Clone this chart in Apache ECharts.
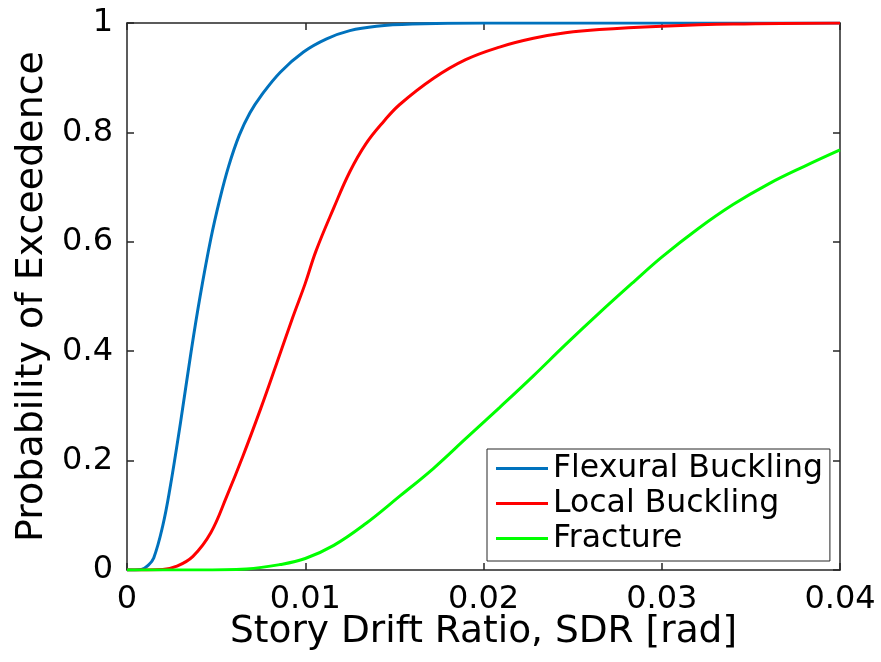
<!DOCTYPE html>
<html>
<head>
<meta charset="utf-8">
<script src="https://cdn.jsdelivr.net/npm/echarts@6/dist/echarts.min.js"></script>
<style>
html,body{margin:0;padding:0;background:#fff;}
#chart{width:881px;height:662px;}
</style>
</head>
<body>
<div id="chart"></div>
<script>
// ---- data ----
const seriesNames = ['Flexural Buckling', 'Local Buckling', 'Fracture'];

const flexX = [0, 0.0008, 0.0012, 0.0015, 0.0020, 0.0024, 0.0030, 0.0036, 0.0041, 0.0047, 0.0052, 0.0057, 0.0063, 0.0069, 0.0075, 0.0086, 0.0099, 0.0112, 0.0125, 0.0140, 0.0160, 0.0200, 0.0300, 0.0400];
const flexY = [0, 0.001, 0.009, 0.022, 0.080, 0.147, 0.269, 0.400, 0.500, 0.605, 0.677, 0.738, 0.795, 0.836, 0.866, 0.910, 0.947, 0.971, 0.986, 0.994, 0.998, 1.0, 1.0, 1.0];

const localX = [0, 0.0020, 0.0028, 0.0037, 0.0047, 0.0056, 0.0065, 0.0075, 0.0084, 0.0093, 0.0100, 0.0106, 0.0116, 0.0125, 0.0134, 0.0144, 0.0153, 0.0172, 0.0190, 0.0209, 0.0228, 0.0246, 0.0265, 0.0300, 0.0340, 0.0400];
const localY = [0, 0.001, 0.007, 0.025, 0.068, 0.135, 0.208, 0.295, 0.378, 0.462, 0.524, 0.583, 0.662, 0.728, 0.779, 0.820, 0.851, 0.899, 0.933, 0.956, 0.972, 0.982, 0.988, 0.994, 0.998, 1.0];

const fracX = [0, 0.0040, 0.0067, 0.0086, 0.0100, 0.0116, 0.0134, 0.0153, 0.0172, 0.0190, 0.0209, 0.0228, 0.0246, 0.0265, 0.0284, 0.0300, 0.0320, 0.0340, 0.0360, 0.0380, 0.0400];
const fracY = [0, 0.000, 0.002, 0.010, 0.021, 0.045, 0.085, 0.135, 0.186, 0.240, 0.297, 0.355, 0.412, 0.470, 0.526, 0.572, 0.623, 0.668, 0.706, 0.738, 0.768];

const xTicks = [0, 0.01, 0.02, 0.03, 0.04];
const yTicks = [0, 0.2, 0.4, 0.6, 0.8, 1];

const xTitle = 'Story Drift Ratio, SDR [rad]';
const yTitle = 'Probability of Exceedence';
const colors = ['#0072BD', '#FF0000', '#00FF00'];

// ---- build ----
function pairs(xs, ys) { return xs.map((x, i) => [x, ys[i]]); }
const allData = [pairs(flexX, flexY), pairs(localX, localY), pairs(fracX, fracY)];

const FONT = 'DejaVu Sans';
const axisColor = '#262626';

const chart = echarts.init(document.getElementById('chart'), null, {renderer: 'canvas'});

const baseAxisLine = {show: true, onZero: false, lineStyle: {color: axisColor, width: 1.5}};
const baseTick = {show: true, inside: true, length: 7, lineStyle: {color: axisColor, width: 1.5}};

chart.setOption({
  animation: false,
  backgroundColor: '#fff',
  color: colors,
  grid: {left: 127, right: 41, top: 23, bottom: 92, containLabel: false},
  legend: {
    orient: 'vertical',
    left: 487, top: 449,
    data: seriesNames,
    icon: 'rect',
    itemWidth: 52, itemHeight: 3,
    itemGap: 0,
    itemTextGap: 5,
    padding: [2, 7, 5, 9],
    borderColor: axisColor, borderWidth: 1,
    backgroundColor: '#fff',
    borderRadius: 0,
    textStyle: {fontFamily: FONT, fontSize: 31.5, color: '#000', lineHeight: 35}
  },
  xAxis: [{
    type: 'value', min: xTicks[0], max: xTicks[xTicks.length - 1], interval: xTicks[1] - xTicks[0],
    position: 'bottom',
    axisLine: baseAxisLine, axisTick: baseTick, splitLine: {show: false},
    axisLabel: {fontFamily: FONT, fontSize: 32, color: '#000', margin: 14},
    name: xTitle, nameLocation: 'middle', nameGap: 43, nameMoveOverlap: false,
    nameTextStyle: {fontFamily: FONT, fontSize: 37.5, color: '#000'}
  }, {
    type: 'value', min: xTicks[0], max: xTicks[xTicks.length - 1], interval: xTicks[1] - xTicks[0],
    position: 'top',
    axisLine: baseAxisLine, axisTick: baseTick, splitLine: {show: false},
    axisLabel: {show: false}
  }],
  yAxis: [{
    type: 'value', min: yTicks[0], max: yTicks[yTicks.length - 1], interval: yTicks[1] - yTicks[0],
    position: 'left',
    axisLine: baseAxisLine, axisTick: baseTick, splitLine: {show: false},
    axisLabel: {fontFamily: FONT, fontSize: 32, color: '#000', margin: 14},
    name: yTitle, nameLocation: 'middle', nameGap: 72, nameRotate: 90,
    nameTextStyle: {fontFamily: FONT, fontSize: 38, color: '#000'}
  }, {
    type: 'value', min: yTicks[0], max: yTicks[yTicks.length - 1], interval: yTicks[1] - yTicks[0],
    position: 'right',
    axisLine: baseAxisLine, axisTick: baseTick, splitLine: {show: false},
    axisLabel: {show: false}
  }],
  series: seriesNames.map((name, i) => ({
    name: name,
    type: 'line',
    xAxisIndex: 0, yAxisIndex: 0,
    data: allData[i],
    showSymbol: false,
    symbol: 'none',
    smooth: 0.4,
    lineStyle: {width: 3, color: colors[i]},
    z: 3 + i
  }))
});
</script>
</body>
</html>
